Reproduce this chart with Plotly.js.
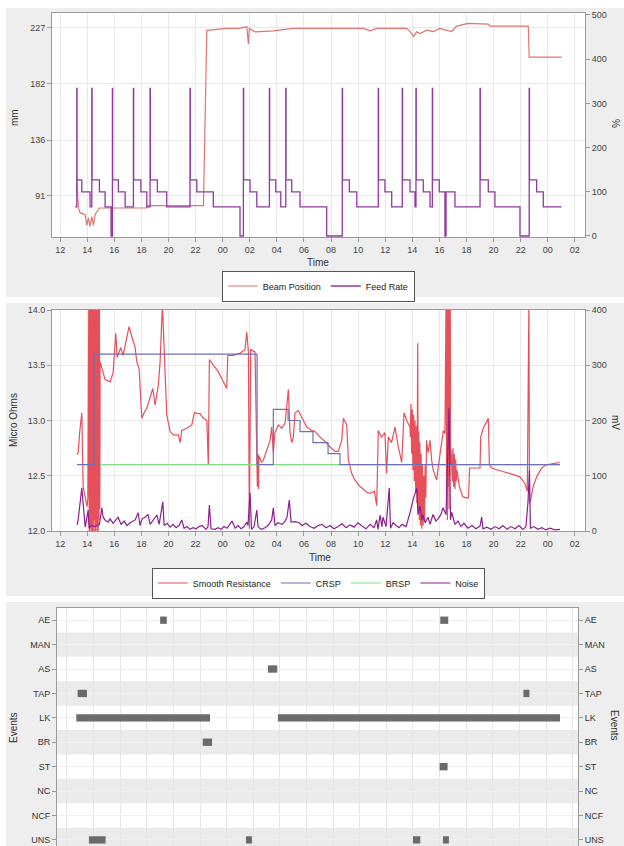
<!DOCTYPE html>
<html><head><meta charset="utf-8">
<script src="https://cdn.plot.ly/plotly-3.0.1.min.js"></script>
<style>html,body{margin:0;padding:0;background:#fff}#chart{width:624px;height:846px}</style>
</head><body><div id="chart"></div>
<script>
// time in hours from midnight of day 1
const tickHours = [12,14,16,18,20,22,24,26,28,30,32,34,36,38,40,42,44,46,48,50];
const tickLabels = ['12','14','16','18','20','22','00','02','04','06','08','10','12','14','16','18','20','22','00','02'];

// Panel 1
const beamTime = [13.23,13.35,13.48,13.85,13.97,14.09,14.21,14.34,14.46,14.58,14.71,14.90,18.40,18.42,22.58,22.83,24.30,25.28,25.78,25.90,25.97,26.39,27.74,29.22,34.38,34.88,35.37,37.59,37.96,38.07,38.33,38.57,39.06,39.55,40.04,40.54,40.91,41.28,42.13,43.61,43.73,46.56,46.63,49.03];
const beamPos  = [105,81,77,75.5,67,73,66,74,67,75.5,78,81,81,83,83,225,226.5,226.5,228,214,226.5,223.7,224.5,226.5,226.5,224.5,226.5,226.5,222.4,219.7,223.7,222.4,225.1,224,226.5,225.1,224,228.4,230.6,230,228.4,228.4,203.3,203.3];

const feedTime = [13.11,13.23,13.25,13.60,14.21,14.34,14.36,14.90,15.32,15.76,15.86,15.88,16.30,16.80,17.41,17.43,17.96,18.40,18.64,18.66,19.18,19.87,21.59,21.61,22.09,23.31,25.28,25.53,25.55,26.02,26.52,27.45,27.47,27.92,28.29,28.66,28.68,29.10,29.71,31.68,32.83,32.85,33.35,33.90,35.49,35.51,35.98,36.48,37.26,37.28,37.83,38.20,38.27,38.29,38.81,39.31,39.48,39.50,39.99,40.41,40.49,41.15,43.00,43.02,43.61,44.10,45.95,46.63,46.65,47.18,47.67,49.03];
const feedRate = [66,334,127,100,66,334,127,100,66,0,334,127,100,66,334,127,100,66,334,127,100,66,334,127,100,66,0,334,127,100,66,334,127,100,66,334,127,100,66,0,334,127,100,66,334,127,100,66,334,127,100,66,334,127,100,66,334,127,100,0,100,66,334,127,100,66,0,334,127,100,66,66];

// Panel 2
const resTime = [13.25,13.33,13.45,13.60,13.70,13.85,13.99,14.05,
 14.12,14.15,14.18,14.21,14.24,14.27,14.30,14.33,14.36,14.39,14.42,14.45,14.48,14.51,14.54,14.57,14.60,14.63,14.66,14.69,14.72,14.75,14.78,14.81,14.84,14.87,14.90,14.93,
 14.95,15.32,15.69,15.91,16.11,16.21,16.48,16.65,16.87,17.09,17.29,17.54,17.66,17.83,18.03,18.20,18.40,18.64,18.84,19.01,19.25,19.38,19.55,19.70,19.87,20.12,20.36,20.73,20.86,20.98,21.35,21.72,21.91,22.33,22.58,22.83,22.94,23.02,23.31,23.68,24.05,24.30,24.38,24.79,25.28,25.65,25.78,25.90,25.97,26.07,26.39,26.52,26.56,26.61,26.65,26.68,26.88,27.00,27.25,27.50,27.62,27.74,27.86,28.11,28.36,28.61,28.85,28.97,29.10,29.22,29.34,29.59,29.84,30.21,30.58,30.82,31.19,31.56,31.93,32.30,32.54,32.79,32.91,33.16,33.28,33.53,33.77,34.14,34.38,34.63,34.88,35.20,35.37,35.49,35.73,35.98,36.10,36.23,36.47,36.72,36.97,37.22,37.39,37.59,37.83,
 37.85,37.90,37.95,38.00,38.05,38.10,38.15,38.20,38.25,38.30,38.35,38.40,38.44,38.48,38.52,38.56,38.60,38.65,38.70,38.75,38.80,38.85,38.90,38.95,39.00,39.05,
 39.16,39.31,39.43,39.55,39.80,39.92,40.16,40.29,40.41,
 40.50,40.53,40.56,40.59,40.62,40.65,40.68,40.71,40.74,40.77,40.80,40.83,40.87,
 40.95,41.00,41.05,41.10,41.15,41.20,41.25,41.30,
 41.48,41.73,41.98,42.15,42.23,43.00,43.05,43.24,43.49,43.61,43.69,43.87,44.36,44.98,45.47,45.95,46.32,46.49,46.61,46.65,46.73,46.92,47.18,47.55,47.92,48.41,48.90];
const resVal = [12.69,12.71,12.90,13.07,12.40,12.30,12.22,12.30,
 14.2,12.0,14.3,11.95,14.2,12.05,14.25,11.95,14.2,12.0,14.3,11.95,14.2,12.1,14.25,11.95,14.2,12.0,14.3,12.05,14.2,11.95,14.25,12.0,14.2,12.1,14.3,12.2,
 13.53,13.37,13.35,13.43,13.79,13.57,13.66,13.59,13.71,13.85,13.76,13.66,13.53,13.47,13.02,13.07,13.11,13.20,13.29,13.14,13.32,13.53,14.05,13.59,13.05,12.90,12.87,12.87,12.80,12.91,12.93,12.96,13.07,13.06,13.02,13.00,12.60,13.55,13.50,13.44,13.35,13.29,13.59,13.59,13.61,13.64,13.80,13.62,12.02,13.64,13.62,12.71,12.40,12.70,12.38,12.68,12.62,12.64,12.73,12.82,12.94,12.71,12.89,12.96,12.93,12.98,13.28,12.89,12.80,12.85,13.07,13.09,13.03,12.94,12.91,12.90,12.85,12.81,12.76,12.72,12.72,12.82,13.02,12.96,12.64,12.52,12.46,12.40,12.38,12.35,12.34,12.36,12.23,12.91,12.85,12.89,12.52,12.85,12.80,12.94,12.76,12.62,13.07,13.00,12.94,
 12.85,13.15,12.70,13.10,12.55,13.05,12.45,13.00,12.35,12.95,12.25,13.70,12.15,12.90,12.10,12.80,12.05,12.70,12.02,12.60,12.05,12.50,12.10,12.60,12.30,12.82,
 12.71,12.82,12.64,12.55,12.46,12.58,12.80,12.91,12.88,
 14.2,12.3,14.2,12.1,14.2,12.4,14.2,12.2,14.2,12.5,14.1,12.6,12.73,
 12.45,12.75,12.40,12.70,12.38,12.65,12.45,12.55,
 12.40,12.31,12.30,12.30,12.57,12.57,12.85,12.93,12.99,13.02,12.60,12.57,12.55,12.53,12.51,12.49,12.43,12.36,14.10,12.25,12.28,12.40,12.49,12.57,12.60,12.61,12.62];

const crspTime = [13.25,14.50,26.54,27.74,28.83,29.71,30.67,31.78,32.66,48.90];
const crspVal  = [12.6,13.6,12.6,13.1,13.0,12.9,12.8,12.7,12.6,12.6];
const brspTime = [14.95,48.90];
const brspVal  = [12.6,12.6];

const noiseTime = [13.25,13.33,13.60,13.70,13.85,14.07,14.14,14.30,14.60,14.90,15.08,15.17,15.32,15.54,15.69,15.91,16.13,16.28,16.50,16.72,16.94,17.17,17.54,17.76,17.90,18.05,18.27,18.49,18.64,18.86,19.14,19.31,19.58,19.68,19.90,20.12,20.34,20.56,20.78,20.98,21.15,21.37,21.59,21.82,22.04,22.26,22.48,22.77,22.92,23.02,23.14,23.44,23.66,23.88,24.10,24.32,24.55,24.69,24.92,25.14,25.36,25.58,25.78,25.87,26.02,26.13,26.32,26.52,26.61,26.83,27.13,27.35,27.62,27.74,27.86,28.09,28.38,28.61,28.75,28.92,29.05,29.34,29.64,29.86,30.15,30.45,30.75,31.04,31.34,31.63,31.93,32.22,32.52,32.81,33.11,33.40,33.70,33.99,34.29,34.58,34.88,35.17,35.37,35.47,35.62,35.76,35.84,36.06,36.30,36.39,36.58,36.80,37.02,37.24,37.54,37.83,38.05,38.33,38.42,38.57,38.71,38.79,38.94,39.16,39.31,39.53,39.75,39.90,40.12,40.26,40.49,40.71,40.82,40.91,41.15,41.37,41.59,41.81,42.11,42.41,42.70,43.00,43.12,43.22,43.51,43.81,44.10,44.40,44.69,44.99,45.28,45.58,45.88,46.17,46.39,46.54,46.65,46.72,46.98,47.27,47.57,47.86,48.16,48.53,48.90];
const noiseVal = [11,20,78,43,7,38,5,10,8,12,42,25,20,16,22,14,20,25,12,18,10,15,20,33,10,22,25,30,12,20,29,12,53,10,14,7,12,6,10,20,5,8,3,6,4,8,10,3,8,47,4,3,6,3,8,5,12,18,5,10,4,8,16,10,69,3,8,38,8,3,6,10,20,42,10,15,12,18,25,56,16,17,15,10,14,8,5,10,12,6,10,4,8,13,6,11,7,15,9,4,12,6,20,3,29,8,25,8,78,5,15,10,6,12,8,33,56,78,30,45,20,29,15,25,12,30,18,22,30,42,30,223,20,34,12,18,8,14,5,10,4,9,25,4,7,3,8,4,10,3,8,4,10,3,8,52,110,5,8,3,6,2,5,2,3];

// Panel 3
const eventCats = ['AE','MAN','AS','TAP','LK','BR','ST','NC','NCF','UNS'];
const evType  = ['AE','AE','AS','TAP','TAP','LK','LK','BR','ST','UNS','UNS','UNS','UNS'];
const evStart = [19.0,40.05,27.1,12.8,46.3,12.7,27.85,22.2,40.0,13.65,25.45,38.0,40.25];
const evEnd   = [19.5,40.65,27.8,13.5,46.75,22.75,49.05,22.9,40.6,14.9,25.9,38.55,40.7];

const W = 624, H = 846;
const px = v => v / W;
const py = v => 1 - v / H;
const FONT = 'Liberation Sans, Arial, sans-serif';

const data = [
  {x: beamTime, y: beamPos, type:'scatter', mode:'lines', name:'Beam Position', xaxis:'x', yaxis:'y',
   line:{color:'#e07470', width:1.2}, legend:'legend'},
  {x: feedTime, y: feedRate, type:'scatter', mode:'lines', name:'Feed Rate', xaxis:'x', yaxis:'y2',
   line:{color:'#8e3b9e', width:1.3, shape:'hv'}, legend:'legend'},
  {x: resTime, y: resVal, type:'scatter', mode:'lines', name:'Smooth Resistance', xaxis:'x2', yaxis:'y3',
   line:{color:'#e6505a', width:1.2}, legend:'legend2', legendrank: 1},
  {x: brspTime, y: brspVal, type:'scatter', mode:'lines', name:'BRSP', xaxis:'x2', yaxis:'y3',
   line:{color:'#7fe07f', width:1.2}, legend:'legend2', legendrank: 3},
  {x: crspTime, y: crspVal, type:'scatter', mode:'lines', name:'CRSP', xaxis:'x2', yaxis:'y3',
   line:{color:'#6f6fb8', width:1.2, shape:'hv'}, legend:'legend2', legendrank: 2},
  {x: noiseTime, y: noiseVal, type:'scatter', mode:'lines', name:'Noise', xaxis:'x2', yaxis:'y4',
   line:{color:'#8a1f8e', width:1.2}, legend:'legend2', legendrank: 4},
  {y: evType, x: evEnd.map((e,i)=>e-evStart[i]), base: evStart, type:'bar', orientation:'h',
   xaxis:'x3', yaxis:'y5', width:0.3, marker:{color:'#6b6b6b'}, showlegend:false, hoverinfo:'skip'},
  {y: evType, x: evStart, type:'scatter', mode:'markers', xaxis:'x3', yaxis:'y6',
   marker:{opacity:0}, showlegend:false, hoverinfo:'skip'}
];

const axisBase = {
  showline:true, linecolor:'#9a9a9a', linewidth:1, ticks:'outside', ticklen:4, tickcolor:'#9a9a9a',
  gridcolor:'#e9e9e9', zeroline:false, tickfont:{size:9, color:'#444', family:FONT}
};
const timeAxis = (extra) => Object.assign({}, axisBase, {
  range:[11.4, 50.75], tickmode:'array', tickvals: tickHours, ticktext: tickLabels, mirror:true
}, extra);

const bands = eventCats.map((c,i)=>i).filter(i => i % 2 === 1).map(i => ({
  type:'rect', xref:'x3 domain', yref:'y5', x0:0, x1:1, y0:i-0.5, y1:i+0.5,
  fillcolor:'#ebebeb', line:{width:0}, layer:'below'
}));
const strips = [
  [0, 624, 0, 8], [0, 624, 297, 303], [0, 624, 596, 602], [0, 6, 0, 846]
].map(s => ({type:'rect', xref:'paper', yref:'paper', x0: px(s[0]), x1: px(s[1]),
  y0: py(s[3]), y1: py(s[2]), fillcolor:'#ffffff', line:{width:0}, layer:'below'}));

const ann = (text, x, y, angle, size) => ({text, x:px(x), y:py(y), xref:'paper', yref:'paper',
  showarrow:false, textangle:angle, xanchor:'center', yanchor:'middle',
  font:{size:size||10, color:'#333', family:FONT}});

const legendStyle = (y) => ({orientation:'h', x:0.51, xanchor:'center', y:py(y), yanchor:'middle',
  bgcolor:'#ffffff', bordercolor:'#555', borderwidth:1, font:{size:9, color:'#222', family:FONT},
  itemwidth:30, traceorder:'normal', tracegroupgap:0});

const layout = {
  width: W, height: H, autosize:false,
  margin:{l:0, r:0, t:0, b:0, pad:0},
  paper_bgcolor:'#eeeeee', plot_bgcolor:'#ffffff',
  font:{family:FONT, size:9, color:'#444'},
  barmode:'overlay',
  xaxis: timeAxis({domain:[px(52), px(585)], anchor:'y'}),
  yaxis: Object.assign({}, axisBase, {domain:[py(237), py(13)], anchor:'x', range:[57.5, 239],
    tickmode:'array', tickvals:[91,136,182,227]}),
  yaxis2: Object.assign({}, axisBase, {overlaying:'y', side:'right', anchor:'x', range:[-2.3, 504.5],
    tickvals:[0,100,200,300,400,500], tickmode:'array', showgrid:false}),
  xaxis2: timeAxis({domain:[px(52), px(585)], anchor:'y3'}),
  yaxis3: Object.assign({}, axisBase, {domain:[py(531), py(310)], anchor:'x2', range:[12, 14],
    tickmode:'array', tickvals:[12,12.5,13,13.5,14], tickformat:'.1f'}),
  yaxis4: Object.assign({}, axisBase, {overlaying:'y3', side:'right', anchor:'x2', range:[0, 400],
    tickmode:'array', tickvals:[0,100,200,300,400], showgrid:false}),
  xaxis3: Object.assign({}, axisBase, {domain:[px(57), px(578)], anchor:'y5', range:[11.25, 50.4],
    tickmode:'array', tickvals: tickHours, showticklabels:false, ticks:'', mirror:true,
    gridcolor:'#e6e6e6'}),
  yaxis5: Object.assign({}, axisBase, {domain:[0, py(608)], anchor:'x3', type:'category',
    categoryorder:'array', categoryarray: eventCats, range:[9.25, -0.5], gridcolor:'#f0f0f0',
    tickfont:{size:9, color:'#333', family:FONT}}),
  yaxis6: Object.assign({}, axisBase, {overlaying:'y5', side:'right', anchor:'x3', type:'category',
    categoryorder:'array', categoryarray: eventCats, range:[9.25, -0.5], showgrid:false,
    tickfont:{size:9, color:'#333', family:FONT}}),
  legend: legendStyle(286),
  legend2: legendStyle(583),
  shapes: strips.concat(bands),
  annotations: [
    ann('mm', 15, 118, -90),
    ann('%', 615, 123, 90),
    ann('Time', 318, 262, 0),
    ann('Micro Ohms', 13, 420, -90),
    ann('mV', 615, 422, 90),
    ann('Time', 320, 557, 0),
    ann('Events', 13, 728, -90),
    ann('Events', 615, 725, 90)
  ]
};

Plotly.newPlot('chart', data, layout, {displayModeBar:false, staticPlot:true});
</script>
</body></html>
